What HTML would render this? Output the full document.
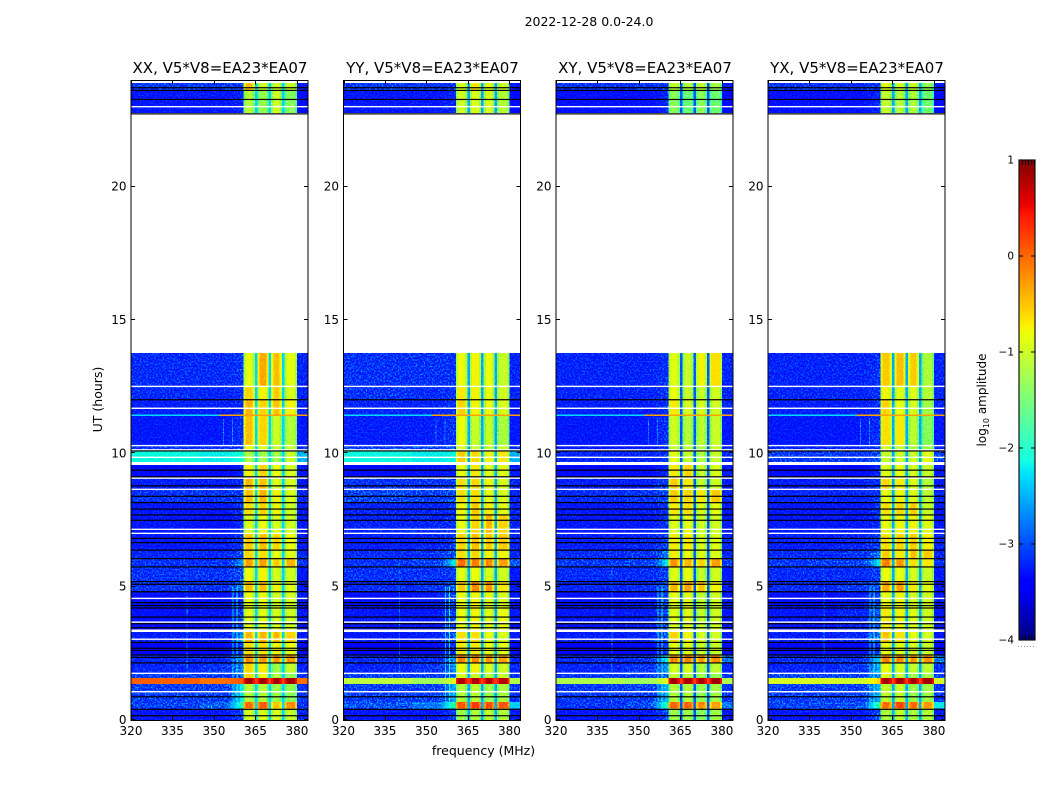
<!DOCTYPE html>
<html lang="en">
<head>
<meta charset="utf-8">
<title>2022-12-28 0.0-24.0</title>
<style>
html,body{margin:0;padding:0;background:#fff;width:1050px;height:800px;overflow:hidden}
svg{display:block}
text{font-family:"DejaVu Sans","Liberation Sans",sans-serif;fill:#000}
</style>
</head>
<body>
<svg id="chart" xmlns="http://www.w3.org/2000/svg" width="1050" height="800" viewBox="0 0 1050 800">
<defs>
<filter id="speckle" x="0" y="0" width="100%" height="100%" color-interpolation-filters="sRGB">
<feTurbulence type="fractalNoise" baseFrequency="0.62" numOctaves="1" seed="7"/>
<feColorMatrix type="matrix" values="1 0 0 0 0 1 0 0 0 0 1 0 0 0 0 0 0 0 0 1"/>
<feComponentTransfer><feFuncR type="linear" slope="4" intercept="-1.8"/><feFuncG type="linear" slope="4" intercept="-1.8"/><feFuncB type="linear" slope="4" intercept="-1.8"/></feComponentTransfer>
</filter>
</defs>
<text x="589" y="26" text-anchor="middle" font-size="12.5">2022-12-28 0.0-24.0</text>
<text x="483.500" y="755" text-anchor="middle" font-size="12.5">frequency (MHz)</text>
<text x="0" y="0" transform="translate(102,399.500) rotate(-90)" text-anchor="middle" font-size="12.5">UT (hours)</text>
<text x="0" y="0" transform="translate(986,400) rotate(-90)" text-anchor="middle" font-size="12">log<tspan font-size="8" dy="3">10</tspan><tspan dy="-3"> amplitude</tspan></text>
</svg>
<script>
const panelTitles = ["XX, V5*V8=EA23*EA07", "YY, V5*V8=EA23*EA07", "XY, V5*V8=EA23*EA07", "YX, V5*V8=EA23*EA07"];
const panelKeys = ["xx", "yy", "xy", "yx"];
const xTicks = [320, 335, 350, 365, 380];
const yTicks = [0, 5, 10, 15, 20];
const colorTicks = [-4, -3, -2, -1, 0, 1];

// time-band edges in hours, top to bottom
const rowEdges = [23.89,23.62,22.76,13.76,12.52,12.0,11.44,10.27,10.09,9.56,9.11,8.66,8.14,7.69,7.01,6.37,6.07,5.74,5.17,4.80,4.31,3.37,2.92,2.44,2.14,1.76,1.57,1.35,0.68,0.44,0];
// frequency edges in MHz
const lowEdges = [320, 345, 354, 360.6];
const bandStarts = [360.6, 365.65, 370.65, 375.5];
const bandEnds = [364.75, 369.75, 374.55, 380.1];
const tailEdges = [380.1, 384];

// log10 amplitude per time band: [low, lowMid, mid, band1, band2, band3, band4, tail]
const xxLevels = [
[-2.95,-2.95,-2.9,-.5,-.95,-.95,-1.0,-3.2],
[-3.2,-3.2,-3.1,-1.1,-1.25,-.95,-1.35,-3.3],
null,
[-3.05,-3.05,-2.95,-.85,-.4,-.5,-.85,-3.1],
[-3.05,-3.1,-3.0,-.6,-.75,-.55,-.9,-3.1],
[-3.15,-3.15,-3.05,-.45,-.6,-.5,-.75,-3.1],
[-3.2,-3.2,-3.0,-.5,-.6,-.95,-1.1,-3.2],
[-3.0,-3.0,-2.9,-.8,-.9,-1.0,-1.0,-3.0],
[-2.15,-2.2,-2.1,-1.15,-1.2,-1.2,-1.0,-2.4],
[-3.3,-3.3,-3.2,-.75,-.6,-.8,-.9,-3.2],
[-3.15,-3.15,-3.05,-.45,-.5,-.85,-.9,-3.2],
[-3.0,-3.0,-2.9,-.5,-.45,-.75,-.9,-3.1],
[-3.2,-3.2,-3.0,-.65,-.6,-.75,-.95,-3.2],
[-3.2,-3.25,-3.05,-.9,-.8,-.9,-.95,-3.2],
[-3.2,-3.15,-3.0,-.55,-.5,-.6,-.8,-3.2],
[-3.1,-3.1,-2.8,-.6,-.65,-.8,-.85,-3.1],
[-3.0,-3.0,-2.5,-.35,-.35,-.55,-.45,-3.0],
[-3.0,-3.0,-2.8,-.8,-.75,-.9,-.95,-3.2],
[-3.0,-3.0,-2.6,-.5,-.5,-.75,-.85,-3.2],
[-3.25,-3.25,-3.0,-.8,-.8,-.9,-.9,-3.2],
[-3.25,-3.2,-2.9,-.85,-.85,-.9,-.95,-3.2],
[-3.15,-3.1,-2.5,-.45,-.45,-.45,-.6,-3.2],
[-3.35,-3.3,-3.0,-.65,-.65,-.75,-.8,-3.3],
[-3.1,-3.1,-2.5,-.25,-.3,-.3,-.3,-3.1],
[-3.1,-3.0,-2.6,-.6,-.7,-1.2,-1.0,-3.1],
[-2.9,-2.9,-2.7,-.6,-.8,-1.1,-1.3,-3.0],
[.05,-.05,.1,.85,.85,.85,.85,-.05],
[-2.9,-2.9,-2.2,-1.1,-1.1,-1.2,-1.3,-3.0],
[-2.9,-2.7,-2.0,-.1,.0,-.5,-.25,-3.0],
[-3.2,-3.2,-2.9,-.9,-.9,-.9,-1.0,-3.1]
];
const yyLevels = [
[-2.95,-2.95,-2.9,-.9,-.7,-.85,-1.0,-3.2],
[-3.2,-3.2,-3.1,-.95,-.9,-.9,-1.1,-3.3],
null,
[-3.0,-3.0,-3.0,-.8,-.75,-.8,-1.0,-3.1],
[-3.0,-3.05,-2.95,-.7,-.75,-.8,-.95,-3.1],
[-3.1,-3.1,-3.0,-.6,-.75,-.8,-.9,-3.2],
[-3.15,-3.15,-3.0,-.8,-1.0,-1.0,-1.15,-3.2],
[-2.9,-2.9,-2.8,-.9,-1.0,-1.0,-1.0,-3.0],
[-2.15,-2.2,-2.15,-.55,-.6,-.75,-.7,-2.4],
[-3.3,-3.25,-3.15,-.8,-.7,-.85,-.85,-3.2],
[-3.0,-3.0,-2.95,-.65,-.6,-.75,-.9,-3.1],
[-2.85,-2.9,-2.8,-.65,-.65,-.8,-.9,-3.1],
[-3.1,-3.1,-3.0,-.75,-.55,-.7,-.85,-3.1],
[-3.1,-3.1,-3.0,-.8,-.6,-.45,-.6,-3.1],
[-3.15,-3.1,-2.9,-.6,-.5,-.55,-.55,-3.1],
[-3.05,-3.0,-2.7,-.65,-.6,-.75,-.75,-3.1],
[-3.0,-2.9,-2.2,-.1,-.2,-.25,-.35,-2.7],
[-3.0,-3.0,-2.9,-.85,-.8,-.9,-.95,-3.2],
[-3.05,-3.0,-2.7,-.55,-.25,-.3,-.7,-3.2],
[-3.25,-3.2,-2.85,-.8,-.75,-.85,-.9,-3.2],
[-3.2,-3.2,-2.8,-.8,-.75,-.85,-.8,-3.2],
[-3.2,-3.15,-2.7,-.65,-.65,-.8,-.9,-3.2],
[-3.35,-3.3,-3.0,-.7,-.7,-.8,-.85,-3.3],
[-3.05,-3.05,-2.5,-.2,-.25,-.3,-.35,-3.1],
[-3.1,-3.0,-2.5,-.8,-.75,-.9,-.95,-3.1],
[-2.9,-2.9,-2.7,-.9,-1.0,-1.1,-1.0,-3.0],
[-1.1,-1.3,-.9,.8,.8,.8,.75,-1.2],
[-2.9,-2.9,-2.4,-1.1,-1.05,-1.2,-1.15,-3.0],
[-2.75,-2.6,-1.9,.05,.2,.1,.05,-2.3],
[-3.2,-3.2,-2.9,-1.2,-1.1,-1.0,-1.1,-3.2]
];
const xyLevels = [
[-3.0,-3.0,-2.95,-1.0,-1.1,-1.0,-1.2,-3.2],
[-3.25,-3.25,-3.1,-1.3,-1.5,-1.3,-1.5,-3.3],
null,
[-3.1,-3.1,-3.0,-.85,-1.0,-.75,-.65,-3.1],
[-3.1,-3.1,-3.0,-.8,-1.0,-1.0,-.95,-3.1],
[-3.15,-3.15,-3.0,-.7,-.9,-.9,-.95,-3.1],
[-3.2,-3.2,-3.0,-.95,-1.1,-1.05,-1.0,-3.2],
[-3.2,-3.2,-3.1,-1.0,-1.05,-1.1,-1.0,-3.1],
[-3.1,-3.1,-3.0,-.8,-1.0,-1.1,-1.0,-3.1],
[-3.3,-3.3,-3.1,-.7,-.6,-1.0,-.9,-3.2],
[-3.15,-3.15,-2.9,-.55,-.7,-1.0,-.95,-3.2],
[-3.05,-3.0,-2.8,-.55,-.6,-.7,-.55,-3.1],
[-3.2,-3.15,-3.0,-.7,-.65,-.9,-.85,-3.2],
[-3.2,-3.2,-3.0,-.85,-.85,-.95,-.95,-3.2],
[-3.15,-3.1,-2.9,-.7,-.7,-.9,-.9,-3.1],
[-3.05,-3.0,-2.6,-.7,-.8,-.85,-.9,-3.1],
[-2.95,-2.9,-2.2,-.3,-.45,-.6,-.35,-2.9],
[-3.05,-3.05,-2.9,-.85,-.8,-1.0,-.95,-3.2],
[-3.1,-3.05,-2.8,-.45,-.35,-.5,-.75,-3.2],
[-3.25,-3.2,-2.85,-.8,-.85,-1.0,-.95,-3.2],
[-3.2,-3.15,-2.8,-.85,-.85,-1.0,-.95,-3.2],
[-3.15,-3.1,-2.7,-.6,-.75,-.9,-.95,-3.2],
[-3.35,-3.3,-3.0,-.8,-.85,-.95,-1.0,-3.3],
[-3.05,-3.0,-2.2,-.2,-.2,-.3,-.25,-2.6],
[-3.1,-3.0,-2.5,-.9,-.9,-1.1,-1.05,-3.1],
[-2.95,-2.9,-2.7,-1.0,-1.1,-1.2,-1.3,-3.0],
[-1.2,-1.3,-.9,.85,.85,.85,.85,-1.2],
[-2.95,-2.9,-2.4,-1.1,-1.1,-1.25,-1.2,-3.0],
[-3.0,-2.8,-2.0,-.05,-.05,-.2,-.35,-2.6],
[-3.2,-3.2,-2.8,-1.2,-1.2,-1.3,-1.2,-3.2]
];
const yxLevels = [
[-3.0,-3.0,-2.95,-.85,-.95,-.95,-1.3,-3.2],
[-3.25,-3.25,-3.1,-1.0,-1.1,-1.1,-1.5,-3.3],
null,
[-3.1,-3.1,-3.0,-.55,-.5,-.55,-1.15,-3.1],
[-3.1,-3.1,-3.0,-.75,-.85,-.85,-1.1,-3.1],
[-3.15,-3.15,-3.0,-.6,-.8,-.9,-1.2,-3.1],
[-3.2,-3.2,-3.0,-.65,-.7,-1.05,-1.35,-3.2],
[-3.1,-3.1,-3.0,-.9,-1.0,-1.1,-1.2,-3.1],
[-2.95,-2.95,-2.8,-1.0,-.95,-.95,-.85,-2.9],
[-3.3,-3.3,-3.1,-.85,-.8,-.9,-1.0,-3.2],
[-3.15,-3.15,-3.0,-.6,-.7,-.85,-1.1,-3.2],
[-3.1,-3.1,-3.0,-.8,-.75,-.85,-1.05,-3.1],
[-3.2,-3.2,-3.0,-.65,-.6,-.55,-1.0,-3.2],
[-3.2,-3.2,-3.05,-.8,-.75,-.75,-.9,-3.2],
[-3.15,-3.1,-2.9,-.65,-.6,-.55,-.75,-3.1],
[-3.05,-3.0,-2.6,-.55,-.7,-.5,-.55,-3.1],
[-2.95,-2.9,-2.2,-.2,-.3,-.65,-.7,-3.0],
[-3.05,-3.05,-2.9,-.8,-.8,-.9,-1.0,-3.2],
[-3.05,-2.95,-2.8,-.4,-.35,-.7,-.85,-3.2],
[-3.25,-3.2,-2.85,-.8,-.75,-.9,-.95,-3.2],
[-3.2,-3.1,-2.7,-.7,-.75,-.85,-.95,-3.2],
[-3.15,-3.1,-2.6,-.5,-.65,-.8,-.95,-3.2],
[-3.3,-3.3,-3.0,-.8,-.85,-.9,-1.0,-3.3],
[-3.05,-3.0,-2.3,-.2,-.25,-.3,-.3,-2.6],
[-3.1,-3.0,-2.4,-.8,-.9,-1.0,-1.05,-3.0],
[-2.85,-2.85,-2.6,-.85,-1.0,-1.2,-1.2,-2.9],
[-.95,-1.0,-.6,.85,.85,.85,.85,-1.0],
[-2.9,-2.9,-2.4,-1.0,-1.0,-1.2,-1.2,-3.0],
[-2.85,-2.75,-1.9,-.1,.15,-.05,-.3,-2.2],
[-3.2,-3.2,-2.8,-1.1,-1.0,-1.1,-1.1,-3.2]
];
const panelLevels = [xxLevels, yyLevels, xyLevels, yxLevels];
const gapLevels = [-2.3, -2.5, -2.9, -2.5];
const hotGapLevel = 0.2;
const bandEdgeDrop = 0.35;

// flagged time samples, hours
const blackLines = [23.71,23.61,23.27,22.73,12.01,10.09,9.37,9.12,8.78,8.39,8.15,7.91,7.69,7.49,6.81,6.65,6.37,6.05,5.74,5.19,5.09,4.81,4.40,4.29,4.20,3.86,3.61,3.46,2.91,2.69,2.61,2.44,2.35,2.14,.87,.40,.16];
const whiteLines = [23.0,12.51,11.69,10.29,10.13,9.85,9.07,8.65,7.15,7.0,4.56,3.67,3.03,1.75,1.06];
const whiteBlockStarts = [24, 22.7, 9.67, 3.40];
const whiteBlockEnds = [23.89, 13.76, 9.56, 3.30];

// interference: hour, start MHz, end MHz, level
const rfiHours = [11.43, 11.43];
const rfiStarts = [320, 352];
const rfiEnds = [352, 384];
const rfiValues = [-2.3, -.3];
// persistent channels: MHz, from hour, to hour, level
const spikeFreqs = [353.3, 356.5, 356.7, 358.2, 340];
const spikeFrom = [10.3, 10.3, .4, .4, .4];
const spikeTo = [11.3, 11.3, 5, 5, 6];
const spikeValues = [-2.6, -2.6, -2.3, -2.1, -2.7];

const svgNS = "http://www.w3.org/2000/svg";
const chart = document.getElementById("chart");
const PANEL_LEFTS = [131, 343.5, 556, 768];
const PANEL_W = 177, TOP = 80, BOTTOM = 720;
const freqMin = 320, freqMax = 384;
const xScale = (f, left) => left + (f - freqMin) / (freqMax - freqMin) * PANEL_W;
const yScale = h => BOTTOM - h / 24 * (BOTTOM - TOP);

function lerp(stops, t) {
  for (let i = 1; i < stops.length; i++) {
    if (t <= stops[i][0]) {
      const a = stops[i - 1], b = stops[i];
      return a[1] + (b[1] - a[1]) * (t - a[0]) / (b[0] - a[0]);
    }
  }
  return stops[stops.length - 1][1];
}
const jetR = [[0,0],[.35,0],[.66,1],[.89,1],[1,.5]];
const jetG = [[0,0],[.125,0],[.375,1],[.64,1],[.91,0],[1,0]];
const jetB = [[0,.5],[.11,1],[.34,1],[.65,0],[1,0]];
function colorOf(v) {
  const t = Math.max(0, Math.min(1, (v + 4) / 5));
  const c = s => Math.round(lerp(s, t) * 255);
  return "rgb(" + c(jetR) + "," + c(jetG) + "," + c(jetB) + ")";
}
function make(tag, attrs, parent) {
  const el = document.createElementNS(svgNS, tag);
  for (const k in attrs) el.setAttribute(k, attrs[k]);
  parent.appendChild(el);
  return el;
}
function cell(g, left, f0, f1, h0, h1, v) {
  const x0 = xScale(f0, left), x1 = xScale(f1, left), y0 = yScale(h0), y1 = yScale(h1);
  return make("rect", {x: x0, y: y0, width: x1 - x0, height: y1 - y0, fill: colorOf(v), "shape-rendering": "crispEdges"}, g);
}
const RAMP_STEPS = 6;

panelKeys.forEach((key, p) => {
  const left = PANEL_LEFTS[p];
  const levels = panelLevels[p];
  const panel = make("g", {}, chart);
  
  

  const g = make("g", {}, panel);
  
  

  const xBand0 = xScale(lowEdges[3], left), xBand1 = xScale(tailEdges[0], left);
  const texLow = make("rect", {x: left, y: TOP, width: xBand0 - left, height: BOTTOM - TOP, filter: "url(#speckle)", opacity: "0.8", style: "mix-blend-mode:overlay"}, panel);
  
  
  const texBand = make("rect", {x: xBand0, y: TOP, width: xBand1 - xBand0, height: BOTTOM - TOP, filter: "url(#speckle)", opacity: "0.3", style: "mix-blend-mode:overlay"}, panel);
  
  
  const texTail = make("rect", {x: xBand1, y: TOP, width: left + PANEL_W - xBand1, height: BOTTOM - TOP, filter: "url(#speckle)", opacity: "0.8", style: "mix-blend-mode:overlay"}, panel);
  
  

  const gHot = make("g", {}, panel);
  
  

  levels.forEach((row, r) => {
    if (!row) return;
    const target = row[3] > 0.5 ? gHot : g;
    const h0 = rowEdges[r], h1 = rowEdges[r + 1];
    for (let c = 0; c < 2; c++) {
      const low = cell(target, left, lowEdges[c], lowEdges[c + 1], h0, h1, row[c]);
      
      
    }
    for (let s = 0; s < RAMP_STEPS; s++) {
      const f0 = lowEdges[2] + (lowEdges[3] - lowEdges[2]) * s / RAMP_STEPS;
      const f1 = lowEdges[2] + (lowEdges[3] - lowEdges[2]) * (s + 1) / RAMP_STEPS;
      const frac = Math.pow((s + 1) / RAMP_STEPS, 1.5);
      const ramp = cell(target, left, f0, f1, h0, h1, row[1] + (row[2] - row[1]) * frac);
      
      
    }
    for (let b = 0; b < 4; b++) {
      const v = row[3 + b];
      const gapV = v > 0.5 ? hotGapLevel : gapLevels[p];
      const gapEnd = b < 3 ? bandStarts[b + 1] : bandEnds[b];
      if (b < 3) {
        const gap = cell(target, left, bandEnds[b], gapEnd, h0, h1, gapV);
        
        
      }
      const edgeW = 0.8;
      const e0 = cell(target, left, bandStarts[b], bandStarts[b] + edgeW, h0, h1, v - bandEdgeDrop);
      
      
      const core = cell(target, left, bandStarts[b] + edgeW, bandEnds[b] - edgeW, h0, h1, v);
      
      
      const e1 = cell(target, left, bandEnds[b] - edgeW, bandEnds[b], h0, h1, v - bandEdgeDrop);
      
      
    }
    const tail = cell(target, left, tailEdges[0], tailEdges[1], h0, h1, row[7]);
    
    
  });

  spikeFreqs.forEach((f, i) => {
    const s = cell(g, left, f, f + 0.36, spikeTo[i], spikeFrom[i], spikeValues[i]);
    
    
  });

  rfiHours.forEach((h, i) => {
    const s = cell(panel, left, rfiStarts[i], rfiEnds[i], h + .025, h - .025, rfiValues[i]);
    
    
  });
  whiteBlockStarts.forEach((h, i) => {
    const b = make("rect", {x: left, y: yScale(h), width: PANEL_W, height: yScale(whiteBlockEnds[i]) - yScale(h), fill: "#fff", "shape-rendering": "crispEdges"}, panel);
    
    
  });
  whiteLines.forEach(h => {
    const l = make("rect", {x: left, y: yScale(h) - .7, width: PANEL_W, height: 1.4, fill: "#fff"}, panel);
    
    
  });
  blackLines.forEach(h => {
    const l = make("rect", {x: left, y: yScale(h) - .6, width: PANEL_W, height: 1.2, fill: "#000"}, panel);
    
    
  });

  const frame = make("rect", {x: left, y: TOP + .5, width: PANEL_W, height: BOTTOM - TOP, fill: "none", stroke: "#000", "stroke-width": 1}, panel);
  
  

  const title = make("text", {x: left + 89, y: 73, "text-anchor": "middle", "font-size": 15}, panel);
  title.textContent = panelTitles[p];
  
  

  xTicks.forEach(t => {
    const x = Math.round(xScale(t, left)) + .5;
    const d = make("path", {d: "M" + x + " " + BOTTOM + "v-4M" + x + " " + (TOP + .5) + "v4", stroke: "#000", "stroke-width": 1, fill: "none"}, panel);
    
    
    const lab = make("text", {x: xScale(t, left), y: 735, "text-anchor": "middle", "font-size": 12}, panel);
    lab.textContent = t;
    
    
  });
  yTicks.forEach(t => {
    const y = Math.round(yScale(t)) - .5;
    const d = make("path", {d: "M" + left + " " + y + "h4M" + (left + PANEL_W) + " " + y + "h-4", stroke: "#000", "stroke-width": 1, fill: "none"}, panel);
    
    
    const lab = make("text", {x: left - 4.5, y: yScale(t) + 4, "text-anchor": "end", "font-size": 12}, panel);
    lab.textContent = t;
    
    
  });
});

// colorbar
const CB_X = 1019, CB_W = 16, CB_TOP = 160, CB_BOTTOM = 640;
const cbScale = v => CB_BOTTOM - (v + 4) / 5 * (CB_BOTTOM - CB_TOP);
const cb = make("g", {}, chart);


for (let i = 0; i < 240; i++) {
  const v0 = -4 + i * 5 / 240, v1 = -4 + (i + 1) * 5 / 240;
  const r = make("rect", {x: CB_X, y: cbScale(v1), width: CB_W, height: cbScale(v0) - cbScale(v1) + .3, fill: colorOf((v0 + v1) / 2)}, cb);
  
  
}
const cbFrame = make("rect", {x: CB_X, y: CB_TOP, width: CB_W, height: CB_BOTTOM - CB_TOP, fill: "none", stroke: "#111", "stroke-width": 1.2}, cb);


colorTicks.forEach(t => {
  const y = Math.round(cbScale(t));
  const lab = make("text", {x: 1014, y: y + 3.5, "text-anchor": "end", "font-size": 10.5}, cb);
  lab.textContent = String(t).replace("-", "\u2212");
  
  
  if (t > -4 && t < 1) {
    const d = make("path", {d: "M" + CB_X + " " + y + "h4M" + (CB_X + CB_W) + " " + y + "h-4", stroke: "#000", "stroke-width": 1, fill: "none"}, cb);
    
    
  }
});
for (let x = CB_X + 3; x < CB_X + CB_W; x += 3) {
  const m = make("path", {d: "M" + (x + .5) + " " + CB_TOP + "v5M" + (x + .5) + " " + CB_BOTTOM + "v-5", stroke: "#000", "stroke-width": .8, fill: "none"}, cb);
  
  
}
for (let x = CB_X - 1; x <= CB_X + CB_W; x += 3) {
  const dot = make("rect", {x: x, y: 646, width: 1, height: 1, fill: "#999"}, cb);
  
  
}
</script>
</body>
</html>
